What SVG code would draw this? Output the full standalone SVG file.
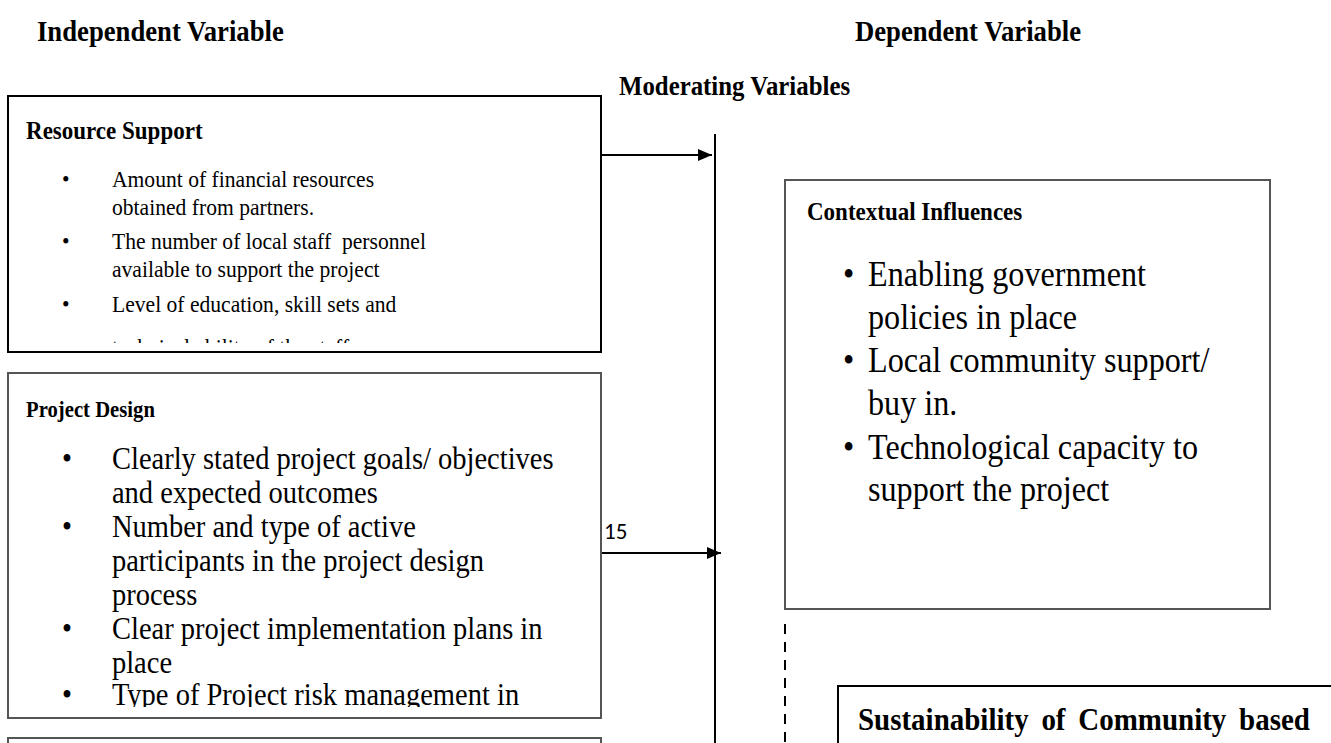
<svg xmlns="http://www.w3.org/2000/svg" width="1331" height="743" viewBox="0 0 1331 743">
  <style>
    .head { font-family: "Liberation Serif", "Times New Roman", serif; font-weight: bold; fill: #000; }
    .body { font-family: "Liberation Serif", "Times New Roman", serif; fill: #000; }
    .box { fill: #fff; stroke: #000; stroke-width: 2; }
    .boxg { fill: #fff; stroke: #555; stroke-width: 2; }
    .wire { stroke: #000; stroke-width: 2; fill: none; }
  </style>
  <defs>
    <marker id="arrow" viewBox="0 0 14 12" refX="14" refY="6" markerWidth="14" markerHeight="12" markerUnits="userSpaceOnUse" orient="auto">
      <path d="M0,0 L14,6 L0,12 Z" fill="#000"/>
    </marker>
    <clipPath id="clipResource"><rect x="9" y="97" width="591" height="246"/></clipPath>
    <clipPath id="clipDesign"><rect x="9" y="374" width="591" height="333"/></clipPath>
    <clipPath id="clipSustain"><rect x="839" y="687" width="492" height="56"/></clipPath>
  </defs>

  <rect width="1331" height="743" fill="#fff"/>

  <!-- column headings (type is set slightly condensed: x values are divided by 0.92) -->
  <g transform="scale(0.92 1)">
    <text class="head" x="40.2" y="41" font-size="29">Independent Variable</text>
    <text class="head" x="929.3" y="41" font-size="29">Dependent Variable</text>
    <text class="head" x="672.8" y="95" font-size="27">Moderating Variables</text>
  </g>

  <!-- connectors -->
  <g id="connectors">
    <line class="wire" x1="715" y1="134" x2="715" y2="743"/>
    <line class="wire" x1="601" y1="155" x2="712" y2="155" marker-end="url(#arrow)"/>
    <line class="wire" x1="601" y1="553" x2="721" y2="553" marker-end="url(#arrow)"/>
    <line x1="785" y1="624" x2="785" y2="743" stroke="#000" stroke-width="2" stroke-dasharray="10 8"/>
    <text x="604" y="539" font-family="Carlito, 'Liberation Sans', sans-serif" font-size="23">15</text>
  </g>

  <!-- Resource Support -->
  <g id="resource-support">
    <rect class="box" x="8" y="96" width="593" height="256"/>
    <g clip-path="url(#clipResource)">
      <g transform="scale(0.92 1)">
        <text class="head" x="28.3" y="139" font-size="25">Resource Support</text>
        <g class="body" font-size="23.5">
          <text x="67.4" y="187">•</text><text x="121.7" y="187">Amount of financial resources</text>
          <text x="121.7" y="215">obtained from partners.</text>
          <text x="67.4" y="249">•</text><text x="121.7" y="249" xml:space="preserve">The number of local staff  personnel</text>
          <text x="121.7" y="277">available to support the project</text>
          <text x="67.4" y="312">•</text><text x="121.7" y="312">Level of education, skill sets and</text>
          <text x="121.7" y="355">technical ability of the staff</text>
        </g>
      </g>
    </g>
  </g>

  <!-- Project Design -->
  <g id="project-design">
    <rect class="boxg" x="8" y="373" width="593" height="345"/>
    <g clip-path="url(#clipDesign)">
      <g transform="scale(0.92 1)">
        <text class="head" x="28.3" y="417" font-size="22.5">Project Design</text>
        <g class="body" font-size="31">
          <text x="67.4" y="469">•</text><text x="121.7" y="469">Clearly stated project goals/ objectives</text>
          <text x="121.7" y="503">and expected outcomes</text>
          <text x="67.4" y="537">•</text><text x="121.7" y="537">Number and type of active</text>
          <text x="121.7" y="571">participants in the project design</text>
          <text x="121.7" y="605">process</text>
          <text x="67.4" y="639">•</text><text x="121.7" y="639">Clear project implementation plans in</text>
          <text x="121.7" y="673">place</text>
          <text x="67.4" y="705">•</text><text x="121.7" y="705">Type of Project risk management in</text>
        </g>
      </g>
    </g>
  </g>

  <!-- third independent variable box, cut off at the page edge -->
  <g id="independent-3">
    <rect class="boxg" x="8" y="738" width="593" height="40"/>
  </g>

  <!-- Contextual Influences -->
  <g id="contextual-influences">
    <rect class="boxg" x="785" y="180" width="485" height="429"/>
    <g transform="scale(0.92 1)">
      <text class="head" x="877.2" y="220" font-size="25">Contextual Influences</text>
      <g class="body" font-size="35">
        <text x="916.3" y="286">•</text><text x="943.5" y="286">Enabling government</text>
        <text x="943.5" y="329">policies in place</text>
        <text x="916.3" y="372">•</text><text x="943.5" y="372">Local community support/</text>
        <text x="943.5" y="415">buy in.</text>
        <text x="916.3" y="459">•</text><text x="943.5" y="459">Technological capacity to</text>
        <text x="943.5" y="501">support the project</text>
      </g>
    </g>
  </g>

  <!-- Sustainability of Community based ... -->
  <g id="sustainability">
    <rect class="box" x="838" y="686" width="520" height="80"/>
    <g clip-path="url(#clipSustain)">
      <g transform="scale(0.92 1)">
        <text class="head" x="932.6" y="730" font-size="31.5" word-spacing="6">Sustainability of Community based</text>
      </g>
    </g>
  </g>
</svg>
